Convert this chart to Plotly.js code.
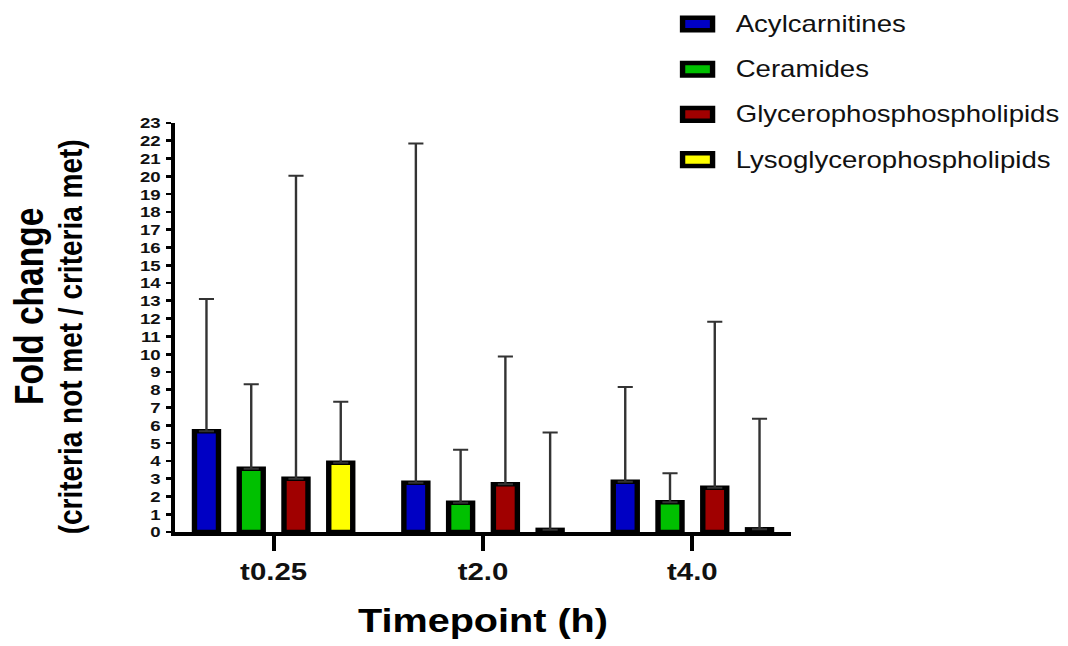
<!DOCTYPE html>
<html>
<head>
<meta charset="utf-8">
<script src="https://cdn.plot.ly/plotly-3.0.1.min.js"></script>
<style>
  html, body { margin: 0; padding: 0; background: #ffffff; overflow: hidden; }
  /* The figure is laid out at 890px and widened to the 1068px page */
  #chart { width: 890px; height: 646px; transform: scaleX(1.2); transform-origin: 0 0; }
</style>
</head>
<body>
<div id="chart"></div>
<script>
// Timepoints on the x axis
const timepoints = ['t0.25', 't2.0', 't4.0'];

// Lipid classes, in legend order
const classNames = ['Acylcarnitines', 'Ceramides', 'Glycerophosphospholipids', 'Lysoglycerophospholipids'];
const classColors = ['#0000c4', '#00c000', '#a00000', '#ffff00'];

// Mean fold change per class and timepoint
const acylcarnitines = [5.66, 2.77, 2.83];
const ceramides = [3.56, 1.65, 1.67];
const glycerophospholipids = [2.99, 2.69, 2.49];
const lysoglycerophospholipids = [3.89, 0.12, 0.15];

// Upper error bar lengths (SD)
const acylcarnitinesSD = [7.44, 19.08, 5.32];
const ceramidesSD = [4.75, 2.97, 1.64];
const glycerophospholipidsSD = [17.04, 7.18, 9.34];
const lysoglycerophospholipidsSD = [3.43, 5.48, 6.22];

const means = [acylcarnitines, ceramides, glycerophospholipids, lysoglycerophospholipids];
const sds = [acylcarnitinesSD, ceramidesSD, glycerophospholipidsSD, lysoglycerophospholipidsSD];

const FONT = 'Liberation Sans, Arial, Helvetica, sans-serif';

const traces = classNames.map((name, i) => ({
  type: 'bar',
  name: name,
  x: timepoints,
  y: means[i],
  marker: { color: classColors[i], line: { color: '#000000', width: 4.5 } },
  error_y: {
    type: 'data', symmetric: false,
    array: sds[i], arrayminus: timepoints.map(() => 0),
    color: '#333333', thickness: 2, width: 6.3
  },
  showlegend: false
}));

// Plot box in layout pixels, used to place the hand-drawn legend
const W = 890, H = 646;
const M = { l: 146, r: 231, t: 123, b: 114 };
const plotW = W - M.l - M.r, plotH = H - M.t - M.b;
const px2x = px => (px - M.l) / plotW;
const px2y = py => (H - M.b - py) / plotH;

const shapes = [];
const annotations = [];
const legendTop = 24, legendStep = 45.2;
classNames.forEach((name, i) => {
  const cy = legendTop + i * legendStep;
  shapes.push({
    type: 'rect', xref: 'paper', yref: 'paper',
    x0: px2x(568.8), x1: px2x(593.8),
    y0: px2y(cy + 6.3), y1: px2y(cy - 6.3),
    fillcolor: classColors[i], line: { color: '#000000', width: 4.5 }
  });
  annotations.push({
    xref: 'paper', yref: 'paper', x: px2x(611), y: px2y(cy),
    xanchor: 'left', yanchor: 'middle', showarrow: false,
    text: name, font: { family: FONT, size: 23, color: '#111111' }
  });
});

// Two-line y axis title
annotations.push({
  xref: 'paper', yref: 'paper', x: px2x(24), y: px2y(307),
  xanchor: 'center', yanchor: 'middle', showarrow: false, textangle: -90,
  text: 'Fold change', font: { family: FONT, size: 33.5, weight: 'bold', color: '#000000' }
});
annotations.push({
  xref: 'paper', yref: 'paper', x: px2x(58.5), y: px2y(337),
  xanchor: 'center', yanchor: 'middle', showarrow: false, textangle: -90,
  text: '(criteria not met / criteria met)', font: { family: FONT, size: 28, weight: 'bold', color: '#000000' }
});

const layout = {
  width: W, height: H,
  margin: M,
  paper_bgcolor: '#ffffff', plot_bgcolor: '#ffffff',
  font: { family: FONT, color: '#000000' },
  barmode: 'group', bargap: 0.145, bargroupgap: 0.464,
  showlegend: false,
  xaxis: {
    type: 'category', range: [-0.47, 2.47],
    showgrid: false, zeroline: false,
    showline: true, linecolor: '#000000', linewidth: 3.5,
    ticks: 'outside', ticklen: 15, tickwidth: 3.3, tickcolor: '#000000',
    tickfont: { family: FONT, size: 24.5, weight: 'bold', color: '#111111' },
    ticklabelstandoff: 0,
    title: { text: 'Timepoint (h)', font: { family: FONT, size: 33, weight: 'bold', color: '#000000' }, standoff: 26 }
  },
  yaxis: {
    range: [0, 23], tick0: 0, dtick: 1,
    showgrid: false, zeroline: false,
    showline: true, linecolor: '#000000', linewidth: 3.5,
    ticks: 'outside', ticklen: 4.5, tickwidth: 2.7, tickcolor: '#000000',
    tickfont: { family: FONT, size: 15.5, weight: 'bold', color: '#111111' },
    ticklabelstandoff: 1
  },
  shapes: shapes,
  annotations: annotations
};

Plotly.newPlot('chart', traces, layout, { staticPlot: true, displayModeBar: false });
</script>
</body>
</html>
